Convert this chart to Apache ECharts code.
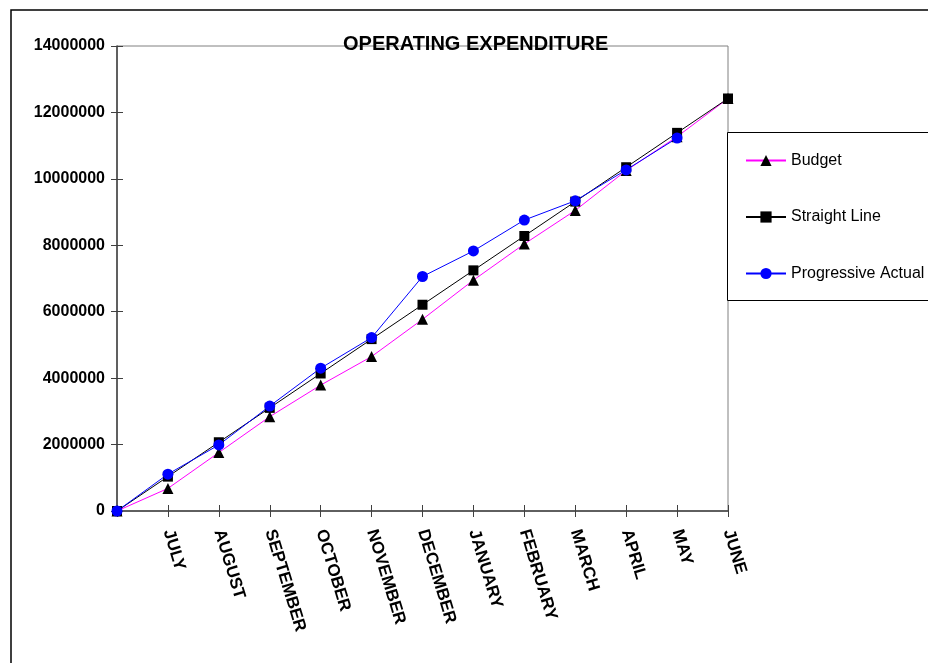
<!DOCTYPE html>
<html>
<head>
<meta charset="utf-8">
<title>Operating Expenditure</title>
<script src="https://cdn.jsdelivr.net/npm/echarts@6/dist/echarts.min.js"></script>
<style>
  html, body { margin: 0; padding: 0; background: #fff; }
  #chart { width: 928px; height: 663px; }
</style>
</head>
<body>
<div id="chart"></div>
<script>
// Months of the financial year; the first slot is the opening (zero) point.
const months = ['', 'JULY', 'AUGUST', 'SEPTEMBER', 'OCTOBER', 'NOVEMBER', 'DECEMBER',
  'JANUARY', 'FEBRUARY', 'MARCH', 'APRIL', 'MAY', 'JUNE'];

// Cumulative expenditure per month
const budget = [0, 680000, 1760000, 2840000, 3790000, 4650000, 5770000,
  6950000, 8040000, 9050000, 10250000, 11270000, 12420000];
const straightLine = [0, 1035000, 2070000, 3105000, 4140000, 5175000, 6210000,
  7245000, 8280000, 9315000, 10350000, 11385000, 12420000];
const progressiveActual = [0, 1110000, 1990000, 3160000, 4300000, 5220000, 7060000,
  7830000, 8760000, 9340000, 10270000, 11230000, null];

const yTicks = { min: 0, max: 14000000, interval: 2000000 };

const FONT = '"Liberation Sans", Arial, sans-serif';
const AXIS_GREY = '#404040';

const chart = echarts.init(document.getElementById('chart'), null, { renderer: 'canvas' });

// shared settings for the value axis (outer axis carries labels, inner one the inward ticks)
const valueScale = { type: 'value', min: yTicks.min, max: yTicks.max, interval: yTicks.interval };

chart.setOption({
  animation: false,
  backgroundColor: '#ffffff',
  title: {
    text: 'OPERATING EXPENDITURE',
    left: 343,
    top: 34,
    padding: 0,
    textStyle: { fontFamily: FONT, fontSize: 20, fontWeight: 'bold', color: '#000' }
  },
  graphic: [
    {
      type: 'rect',
      shape: { x: 11, y: 10, width: 1000, height: 1000 },
      style: { fill: 'none', stroke: '#000', lineWidth: 1.5 },
      silent: true, z: -10
    },
    {
      type: 'rect',
      shape: { x: 727.5, y: 132.5, width: 400, height: 168 },
      style: { fill: '#fff', stroke: '#000', lineWidth: 1 },
      silent: true, z: 50
    }
  ],
  legend: {
    orient: 'vertical',
    left: 745,
    top: 152,
    z: 60,
    padding: 0,
    itemWidth: 40,
    itemHeight: 14,
    itemGap: 39.5,
    textStyle: { fontFamily: FONT, fontSize: 16, color: '#000', lineHeight: 17 },
    data: ['Budget', 'Straight Line', 'Progressive Actual']
  },
  grid: {
    left: 117, right: 200, top: 46, bottom: 152,
    show: true, borderColor: '#808080', borderWidth: 1, backgroundColor: 'transparent'
  },
  xAxis: [
    {
      type: 'category',
      data: months,
      boundaryGap: false,
      axisLine: { lineStyle: { color: AXIS_GREY, width: 1.5 } },
      axisTick: { show: true, inside: false, length: 6, interval: 0,
        lineStyle: { color: AXIS_GREY, width: 1 } },
      axisLabel: {
        interval: 0, rotate: -73, margin: 19,
        fontFamily: FONT, fontSize: 17, fontWeight: 'bold', color: '#000'
      },
      splitLine: { show: false }
    },
    {
      // inner half of the crossing tick marks
      type: 'category',
      data: months,
      position: 'bottom',
      boundaryGap: false,
      axisLine: { show: false },
      axisTick: { show: true, inside: true, length: 6, interval: 0,
        lineStyle: { color: AXIS_GREY, width: 1 } },
      axisLabel: { show: false },
      splitLine: { show: false }
    }
  ],
  yAxis: [
    Object.assign({}, valueScale, {
      axisLine: { show: true, lineStyle: { color: AXIS_GREY, width: 1.5 } },
      axisTick: { show: true, inside: false, length: 6, lineStyle: { color: AXIS_GREY, width: 1 } },
      axisLabel: {
        margin: 12, fontFamily: FONT, fontSize: 16, fontWeight: 'bold', color: '#000',
        formatter: v => String(v)
      },
      splitLine: { show: false }
    }),
    Object.assign({}, valueScale, {
      position: 'left',
      axisLine: { show: false },
      axisTick: { show: true, inside: true, length: 6, lineStyle: { color: AXIS_GREY, width: 1 } },
      axisLabel: { show: false },
      splitLine: { show: false }
    })
  ],
  series: [
    {
      name: 'Budget',
      type: 'line',
      data: budget,
      symbol: 'triangle',
      symbolSize: 11,
      lineStyle: { color: '#ff00ff', width: 1 },
      itemStyle: { color: '#000000', borderWidth: 0 },
      emphasis: { disabled: true }
    },
    {
      name: 'Straight Line',
      type: 'line',
      data: straightLine,
      symbol: 'rect',
      symbolSize: 10,
      lineStyle: { color: '#000000', width: 1 },
      itemStyle: { color: '#000000', borderWidth: 0 },
      emphasis: { disabled: true }
    },
    {
      name: 'Progressive Actual',
      type: 'line',
      data: progressiveActual,
      symbol: 'circle',
      symbolSize: 11,
      lineStyle: { color: '#0000ff', width: 1 },
      itemStyle: { color: '#0000ff', borderWidth: 0 },
      emphasis: { disabled: true }
    }
  ]
});
</script>
</body>
</html>
